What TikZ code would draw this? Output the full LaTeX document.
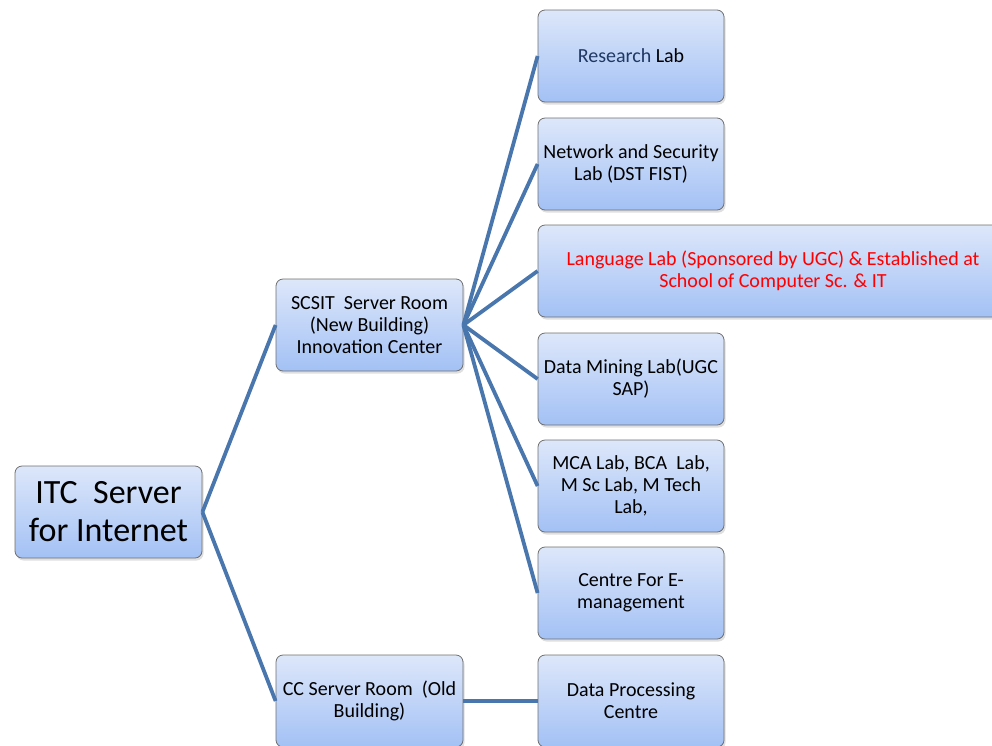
\documentclass[tikz,border=0pt]{standalone}
\usepackage{fontspec}
\setmainfont{Carlito}
\usetikzlibrary{shadows}
\definecolor{linkblue}{HTML}{4A76AE}
\definecolor{boxtop}{HTML}{DDE7FA}
\definecolor{boxbot}{HTML}{A3C1F5}
\definecolor{boxline}{HTML}{6F6F6F}
\definecolor{navy}{HTML}{1F3864}
\begin{document}
\begin{tikzpicture}[x=1pt,y=-1pt,
  box/.style={draw=boxline, line width=0.8pt, rounded corners=7pt,
    top color=boxtop, bottom color=boxbot,
    drop shadow={opacity=0.25, shadow xshift=1.5pt, shadow yshift=-2.5pt},
    minimum height=92pt, inner sep=2pt, align=center,
    font=\fontsize{20}{22}\selectfont},
  link/.style={linkblue, line width=3.8pt}]
\useasboundingbox (0,0) rectangle (992,745);
\clip (0,0) rectangle (992,745);
\node[box, minimum width=187pt, font=\fontsize{34}{38}\selectfont] (itc) at (108.5,512) {ITC\ \ Server\\for Internet};
\node[box, minimum width=187pt] (scsit) at (369.5,325) {SCSIT\ \ Server Room\\(New Building)\\Innovation Center};
\node[box, minimum width=187pt] (cc) at (369.5,701) {CC Server Room\ \ (Old\\Building)};
\node[box, minimum width=186pt] (res) at (631,56) {{\color{navy}Research} Lab};
\node[box, minimum width=186pt] (net) at (631,164) {Network and Security\\Lab (DST FIST)};
\node[box, minimum width=470pt, text=red] (lang) at (773,271) {Language Lab (Sponsored by UGC) \& Established at\\School of Computer Sc. \& IT};
\node[box, minimum width=186pt] (dm) at (631,379) {Data Mining Lab(UGC\\SAP)};
\node[box, minimum width=186pt] (mca) at (631,486) {MCA Lab, BCA\ \ Lab,\\M Sc Lab, M Tech\\Lab,};
\node[box, minimum width=186pt] (ce) at (631,593) {Centre For E-\\management};
\node[box, minimum width=186pt] (dp) at (631,701) {Data Processing\\Centre};
\draw[link] (itc.east) -- (scsit.west);
\draw[link] (itc.east) -- (cc.west);
\foreach \t in {res,net,lang,dm,mca,ce}
  \draw[link] (scsit.east) -- (\t.west);
\draw[link] (cc.east) -- (dp.west);
\end{tikzpicture}
\end{document}
